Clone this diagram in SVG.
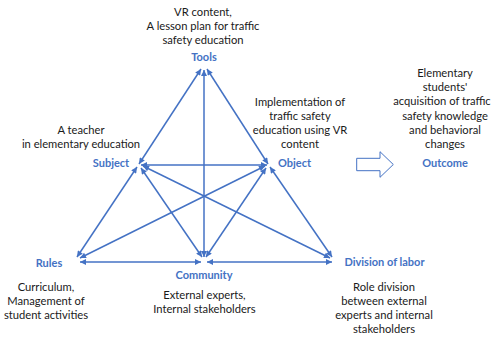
<svg xmlns="http://www.w3.org/2000/svg" width="492" height="338" viewBox="0 0 492 338">
<style>
.t{font-family:Lato,"Open Sans","Liberation Sans",sans-serif;font-size:11.2px;fill:#1a1a1a;text-anchor:middle}
.h{font-family:Lato,"Open Sans","Liberation Sans",sans-serif;font-size:11px;font-weight:bold;fill:#4472C4;text-anchor:middle}
.c line{stroke:#4472C4;stroke-width:1.5;marker-start:url(#ah);marker-end:url(#ah)}
</style>
<defs>
<marker id="ah" viewBox="0 0 10 10" refX="10" refY="5" markerWidth="7" markerHeight="6" markerUnits="userSpaceOnUse" orient="auto-start-reverse">
<path d="M0,0 L10,5 L0,10 z" fill="#4472C4"/>
</marker>
</defs>
<rect width="492" height="338" fill="#fff"/>
<g id="connectors" class="c">
<line x1="139" y1="164" x2="201" y2="69"/>
<line x1="268" y1="164" x2="207" y2="69"/>
<line x1="204" y1="257" x2="204" y2="70"/>
<line x1="141" y1="165" x2="267" y2="165"/>
<line x1="137" y1="167" x2="77" y2="257"/>
<line x1="270" y1="167" x2="332" y2="257"/>
<line x1="141" y1="168" x2="202" y2="257"/>
<line x1="266" y1="168" x2="206" y2="257"/>
<line x1="143" y1="166" x2="330" y2="258"/>
<line x1="265" y1="166" x2="80" y2="258"/>
<line x1="80" y1="262" x2="201" y2="262"/>
<line x1="207" y1="262" x2="332" y2="262"/>
</g>
<g id="tools">
<text class="t" x="203" y="16">VR content,</text>
<text class="t" x="203" y="30">A lesson plan for traffic</text>
<text class="t" x="203" y="44">safety education</text>
<text class="h" x="204" y="60.5">Tools</text>
</g>
<g id="subject">
<text class="t" x="81" y="134">A teacher</text>
<text class="t" x="81" y="148">in elementary education</text>
<text class="h" x="111" y="167">Subject</text>
</g>
<g id="object">
<text class="t" x="300" y="105.5">Implementation of</text>
<text class="t" x="300" y="119.8">traffic safety</text>
<text class="t" x="300" y="134.1">education using VR</text>
<text class="t" x="300" y="148.4">content</text>
<text class="h" x="294.5" y="167">Object</text>
</g>
<g id="rules">
<text class="h" x="49" y="266.5">Rules</text>
<text class="t" x="46" y="290.5">Curriculum,</text>
<text class="t" x="46" y="305">Management of</text>
<text class="t" x="46" y="319">student activities</text>
</g>
<g id="community">
<text class="h" x="204" y="279">Community</text>
<text class="t" x="204.5" y="299">External experts,</text>
<text class="t" x="204.5" y="313">Internal stakeholders</text>
</g>
<g id="division">
<text class="h" x="384.5" y="266">Division of labor</text>
<text class="t" x="384" y="290.5">Role division</text>
<text class="t" x="384" y="304.5">between external</text>
<text class="t" x="384" y="318.5">experts and internal</text>
<text class="t" x="384" y="332.5">stakeholders</text>
</g>
<g id="arrow">
<path d="M356.7,158.3 H380 V151.7 L393.3,164.5 L380,177.3 V170.7 H356.7 Z" fill="#fff" stroke="#4472C4" stroke-width="1"/>
</g>
<g id="outcome">
<text class="t" x="445" y="77">Elementary</text>
<text class="t" x="445" y="91.2">students'</text>
<text class="t" x="442" y="105.4">acquisition of traffic</text>
<text class="t" x="445" y="119.6">safety knowledge</text>
<text class="t" x="445" y="133.8">and behavioral</text>
<text class="t" x="445" y="148">changes</text>
<text class="h" x="445" y="167">Outcome</text>
</g>
</svg>
